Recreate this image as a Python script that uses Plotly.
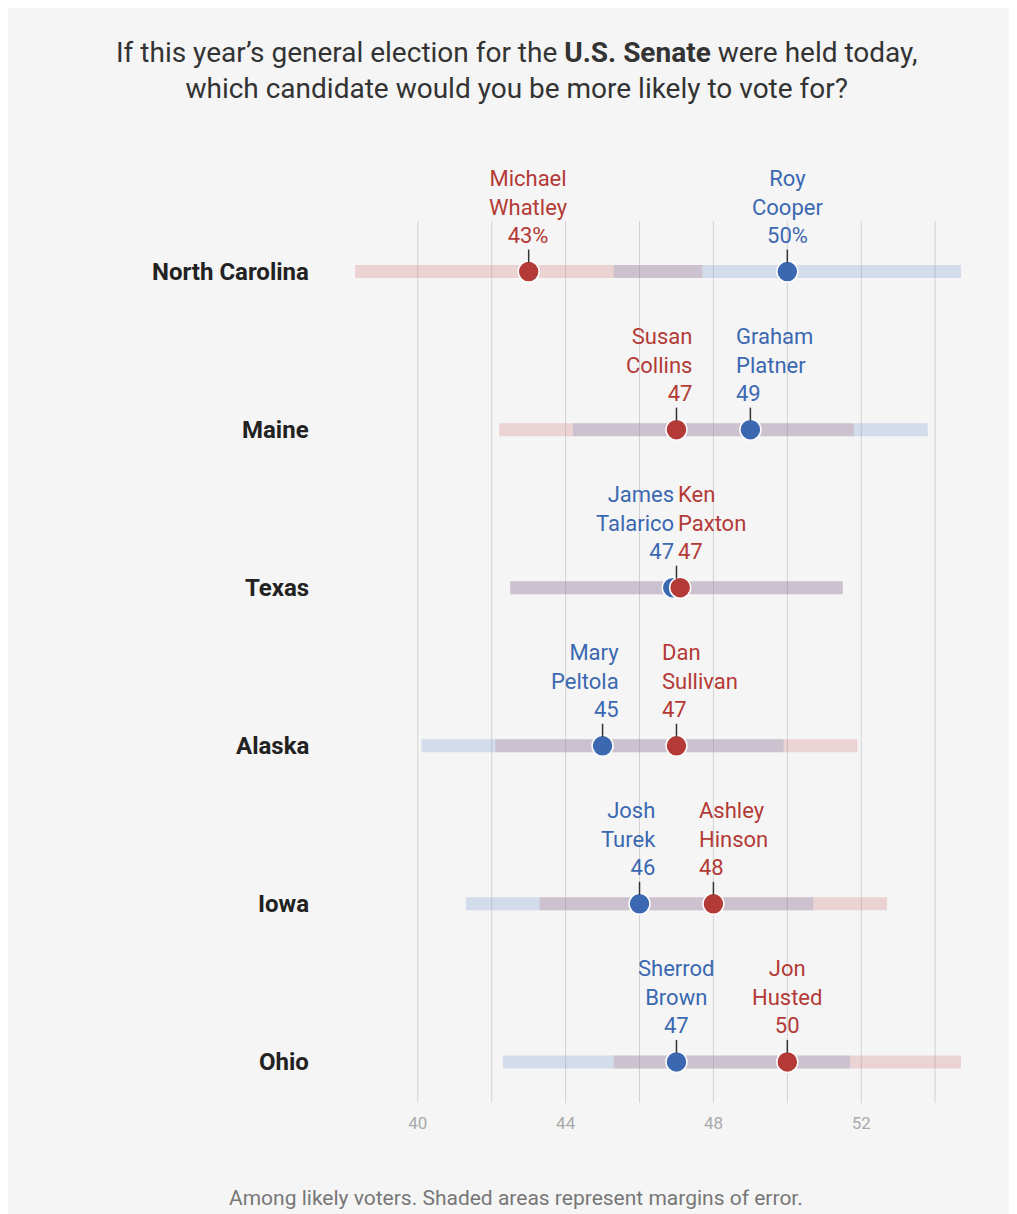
import plotly.graph_objects as go

states = ["North Carolina", "Maine", "Texas", "Alaska", "Iowa", "Ohio"]
dem_names = ["Roy<br>Cooper", "Graham<br>Platner", "James<br>Talarico", "Mary<br>Peltola", "Josh<br>Turek", "Sherrod<br>Brown"]
rep_names = ["Michael<br>Whatley", "Susan<br>Collins", "Ken<br>Paxton", "Dan<br>Sullivan", "Ashley<br>Hinson", "Jon<br>Husted"]
dem_vals = [50, 49, 47, 45, 46, 47]
rep_vals = [43, 47, 47, 47, 48, 50]
margins = [4.7, 4.8, 4.5, 4.9, 4.7, 4.7]
ticks = [40, 44, 48, 52]
grid = [40, 42, 44, 46, 48, 50, 52, 54]

RED = "#b33a36"
BLUE = "#3b68b0"
RED_BAR = "rgba(205,90,90,0.22)"
BLUE_BAR = "rgba(90,130,195,0.22)"
FONT = "Roboto"

fig = go.Figure()
shapes = []
annotations = []

for g in grid:
    shapes.append(dict(type="line", xref="x", yref="paper", x0=g, x1=g, y0=0, y1=1,
                       line=dict(color="#d2d2d2", width=1), layer="below"))

label_x = -(347 - 303) / (953 - 347)

for i, st in enumerate(states):
    m = margins[i]
    for v, col in [(rep_vals[i], RED_BAR), (dem_vals[i], BLUE_BAR)]:
        fig.add_trace(go.Scatter(x=[v - m, v + m], y=[i, i], mode="lines",
                                 line=dict(color=col, width=13), hoverinfo="skip", showlegend=False))
    d, r = dem_vals[i], rep_vals[i]
    tie = d == r
    dx, rx = (d - 0.1, r + 0.1) if tie else (d, r)
    for x, col in [(dx, BLUE), (rx, RED)]:
        fig.add_trace(go.Scatter(x=[x], y=[i], mode="markers",
                                 marker=dict(color=col, size=21, line=dict(color="white", width=1.5)),
                                 showlegend=False, hoverinfo="skip"))

    close = abs(d - r) <= 2
    pct = "%" if i == 0 else ""
    for name, v, x, col in [(dem_names[i], d, dx, BLUE), (rep_names[i], r, rx, RED)]:
        other = r if col == BLUE else d
        if close:
            left = v < other or (tie and col == BLUE)
            xanchor = "right" if left else "left"
            if tie:
                xshift = 0 if left else 0
                x = v
            else:
                xshift = 18 if left else -16
        else:
            xanchor, xshift = "center", 0
        annotations.append(dict(x=x, y=i, xref="x", yref="y", text=f"{name}<br>{v}{pct}",
                                showarrow=False, xanchor=xanchor, yanchor="bottom", yshift=22,
                                xshift=xshift, align=xanchor if xanchor != "center" else "center",
                                font=dict(family=FONT, size=22, color=col)))
        if not (tie and col == RED):
            tx = v if tie else x
            shapes.append(dict(type="line", xref="x", yref="y", ysizemode="pixel",
                               yanchor=i, x0=tx, x1=tx, y0=9, y1=22, line=dict(color="#333", width=1.5)))
    annotations.append(dict(x=label_x, xref="x domain", xanchor="right", y=i, yref="y", showarrow=False,
                            text=f"<b>{st}</b>", font=dict(family=FONT, size=24, color="#222")))

cx = (508 - 347) / 606

fig.update_layout(
    width=1017, height=1214,
    paper_bgcolor="#f5f5f5", plot_bgcolor="#f5f5f5",
    margin=dict(l=347, r=64, t=213, b=119),
    xaxis=dict(range=[38.3, 54.7], tickvals=ticks, showgrid=False, zeroline=False,
               tickfont=dict(family=FONT, size=17, color="#aaa"), ticks="", ticklabelstandoff=8),
    yaxis=dict(range=[5.26, -0.32], showticklabels=False, showgrid=False, zeroline=False),
    shapes=shapes,
    annotations=annotations + [
        dict(xref="paper", yref="paper", x=cx, y=1 + (213 - 62) / 882, showarrow=False, xanchor="center",
             text="If this year’s general election for the <b>U.S. Senate</b> were held today,<br>which candidate would you be more likely to vote for?",
             font=dict(family=FONT, size=28, color="#333"), align="center", yanchor="middle"),
        dict(xref="paper", yref="paper", x=cx, y=-(1190 - 1095) / 882, showarrow=False, xanchor="center",
             text="Among likely voters. Shaded areas represent margins of error.",
             font=dict(family=FONT, size=21, color="#777"), yanchor="middle"),
    ],
)

fig.write_html("out.html")
